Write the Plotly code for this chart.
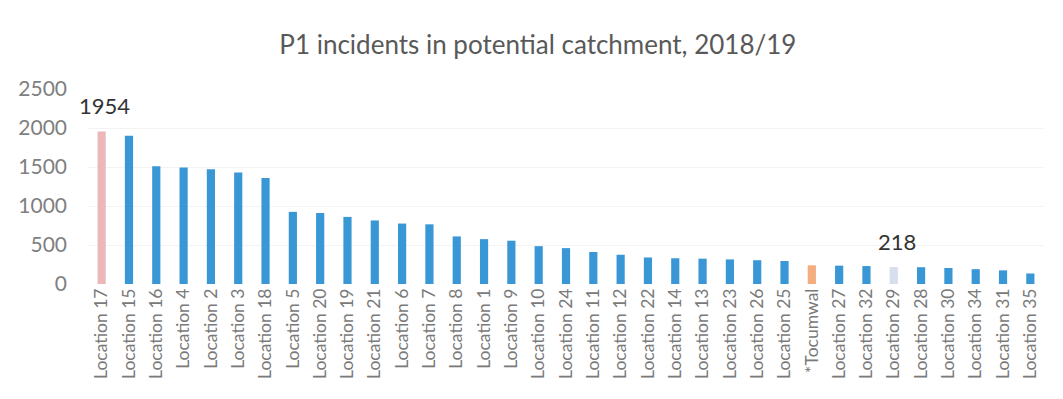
import plotly.graph_objects as go

# P1 incidents per location, 2018/19
locations = [
    "Location 17", "Location 15", "Location 16", "Location 4", "Location 2",
    "Location 3", "Location 18", "Location 5", "Location 20", "Location 19",
    "Location 21", "Location 6", "Location 7", "Location 8", "Location 1",
    "Location 9", "Location 10", "Location 24", "Location 11", "Location 12",
    "Location 22", "Location 14", "Location 13", "Location 23", "Location 26",
    "Location 25", "*Tocumwal", "Location 27", "Location 32", "Location 29",
    "Location 28", "Location 30", "Location 34", "Location 31", "Location 35",
]
incidents = [
    1954, 1900, 1510, 1495, 1470,
    1430, 1360, 925, 910, 860,
    815, 775, 765, 610, 575,
    555, 485, 460, 410, 375,
    340, 330, 325, 315, 305,
    295, 240, 235, 230, 218,
    215, 205, 190, 175, 135,
]
y_ticks = [0, 500, 1000, 1500, 2000, 2500]

# Highlighted bars
highlight_colors = {
    "Location 17": "#ebb7b9",
    "*Tocumwal": "#f3ad7f",
    "Location 29": "#d9deef",
}
labelled = ["Location 17", "Location 29"]

BLUE = "#3a97d6"
colors = [highlight_colors.get(loc, BLUE) for loc in locations]

fig = go.Figure(
    go.Bar(
        x=locations,
        y=incidents,
        marker=dict(color=colors, line=dict(width=0)),
        width=0.3,
    )
)

for loc in labelled:
    val = incidents[locations.index(loc)]
    fig.add_annotation(
        x=loc, y=val, text=str(val), showarrow=False,
        xshift=3, yshift=26, font=dict(size=22, color="#333333", family="Lato"),
    )

fig.update_layout(
    width=1063,
    height=399,
    margin=dict(l=88, r=19, t=89, b=115),
    paper_bgcolor="white",
    plot_bgcolor="white",
    showlegend=False,
    title=dict(
        text="P1 incidents in potential catchment, 2018/19",
        x=0.506, xanchor="center", y=0.887, yanchor="middle",
        font=dict(size=26, color="#595959", family="Lato"),
    ),
    font=dict(family="Lato", color="#7f7f7f"),
)

fig.update_xaxes(
    range=[-0.5, len(locations) - 0.5],
    tickangle=-90,
    tickfont=dict(size=17.5, color="#7a7a7a"),
    showgrid=False,
    showline=False,
    ticks="",
    automargin=False,
)
fig.update_yaxes(
    range=[0, 2500],
    tickvals=y_ticks,
    tickfont=dict(size=21, color="#7f7f7f"),
    showgrid=True,
    gridcolor="#f3f3f3",
    zeroline=False,
    showline=False,
    ticks="",
    ticklabelstandoff=20,
    automargin=False,
)

fig.write_html("out.html")
